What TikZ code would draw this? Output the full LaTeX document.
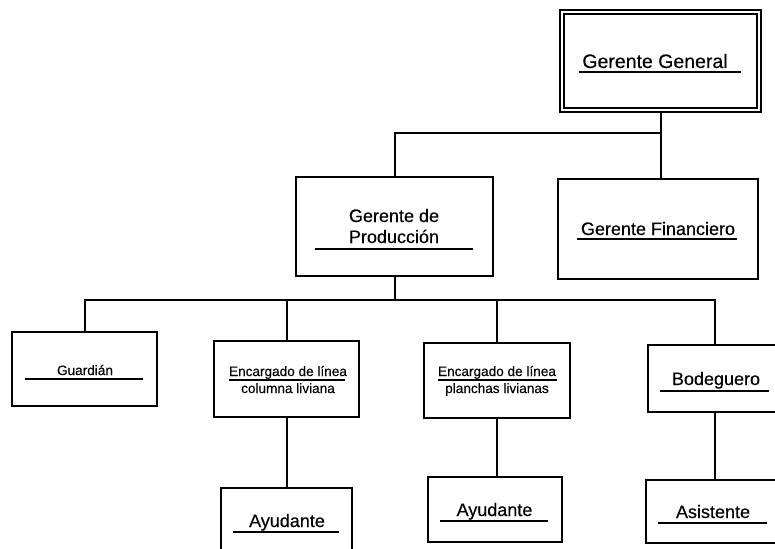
\documentclass[tikz,border=0pt]{standalone}
\usepackage{fontspec}
\setmainfont[FakeBold=0.35]{Liberation Sans}
\begin{document}
\begin{tikzpicture}[x=1pt,y=-1pt,
  box/.style={draw, line width=2pt, rectangle, inner sep=0pt},
  conn/.style={line width=2pt},
  uline/.style={line width=1.6pt},
  bigtxt/.style={font=\fontsize{19.5}{22}\selectfont, anchor=base, inner sep=0pt},
  midtxt/.style={font=\fontsize{18}{21}\selectfont, anchor=base, inner sep=0pt},
  smalltxt/.style={font=\fontsize{13.6}{16}\selectfont, anchor=base, inner sep=0pt}]
\useasboundingbox (0,0) rectangle (775,548);
\fill[white] (0,0) rectangle (775,548);
% boxes
\node[box, minimum width=201pt, minimum height=102pt] (gg) at (660.5,61) {};
\draw[line width=1.5pt] ([shift={(5pt,-5pt)}]gg.north west) rectangle ([shift={(-5pt,5pt)}]gg.south east);
\node[box, minimum width=197pt, minimum height=99pt] (gp) at (394.5,226.5) {};
\node[box, minimum width=200pt, minimum height=100pt] (gf) at (658,229) {};
\node[box, minimum width=145pt, minimum height=74pt] (guard) at (84.5,369) {};
\node[box, minimum width=145pt, minimum height=76pt] (encc) at (286.5,379) {};
\node[box, minimum width=146pt, minimum height=75pt] (encp) at (497,380.5) {};
\node[box, minimum width=134pt, minimum height=67pt] (bod) at (715,378.5) {};
\node[box, minimum width=131pt, minimum height=72pt] (ayu1) at (286.5,524) {};
\node[box, minimum width=134pt, minimum height=65pt] (ayu2) at (495,509.5) {};
\node[box, minimum width=138pt, minimum height=63pt] (asis) at (715,511.5) {};
% texts
\node[bigtxt] (tgg) at (655,68) {Gerente General};
\draw[uline] (579,72) -- (741,72);
\node[midtxt] (tgp1) at (394,222) {Gerente de};
\node[midtxt] (tgp2) at (394,243) {Producción};
\draw[uline] (315,249) -- (473,249);
\node[midtxt] (tgf) at (658,235) {Gerente Financiero};
\draw[uline] (577,239) -- (737,239);
\node[smalltxt] (tguard) at (85,375) {Guardián};
\draw[uline] (25,379) -- (143,379);
\node[smalltxt] (tencc1) at (288,376) {Encargado de línea};
\draw[uline] (229,380) -- (345,380);
\node[smalltxt] (tencc2) at (288,393) {columna liviana};
\node[smalltxt] (tencp1) at (497,376) {Encargado de línea};
\draw[uline] (438,380) -- (557,380);
\node[smalltxt] (tencp2) at (497,393) {planchas livianas};
\node[midtxt] (tbod) at (716,385) {Bodeguero};
\draw[uline] (660,391) -- (769,391);
\node[midtxt] (tayu1) at (287,527) {Ayudante};
\draw[uline] (233,532) -- (339,532);
\node[midtxt] (tayu2) at (494.5,516) {Ayudante};
\draw[uline] (440,521) -- (548,521);
\node[midtxt] (tasis) at (713,518) {Asistente};
\draw[uline] (658,523) -- (767,523);
% connectors
\coordinate (b1) at (gg.south |- 0,133);
\draw[conn] (gg.south) -- (b1);
\draw[conn] (gp.north) |- (b1);
\draw[conn] (b1) -- (b1 |- gf.north);
\coordinate (b2) at (gp.south |- 0,300);
\draw[conn] (gp.south) -- (b2);
\draw[conn] (guard.north) |- (bod.north |- b2) -- (bod.north);
\draw[conn] (encc.north) -- (encc.north |- b2);
\draw[conn] (encp.north) -- (encp.north |- b2);
\draw[conn] (encc.south) -- (encc.south |- ayu1.north);
\draw[conn] (encp.south) -- (encp.south |- ayu2.north);
\draw[conn] (bod.south) -- (asis.north);
\end{tikzpicture}
\end{document}
